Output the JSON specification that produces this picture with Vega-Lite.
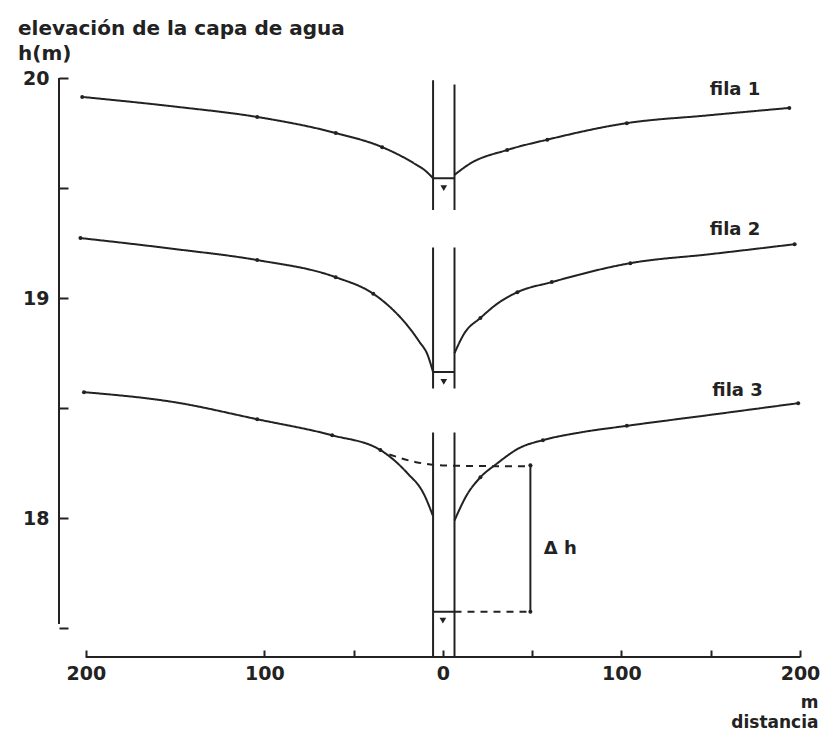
{
  "$schema": "https://vega.github.io/schema/vega-lite/v6.json",
  "width": 741,
  "height": 579,
  "autosize": {"type": "none"},
  "padding": {"left": 59, "top": 78, "right": 29, "bottom": 79},
  "background": "white",
  "config": {"view": {"stroke": null}, "font": "DejaVu Sans"},
  "title": {
    "text": ["elevación de la capa de agua", "h(m)"],
    "anchor": "start",
    "frame": "group",
    "dx": -41,
    "offset": 5,
    "fontSize": 20,
    "fontWeight": "bold",
    "color": "#222",
    "lineHeight": 25,
    "font": "DejaVu Sans"
  },
  "datasets": {
    "curvas": [
      {"serie": "f1i", "estilo": "solido", "d": -202, "h": 19.914},
      {"serie": "f1i", "estilo": "solido", "d": -150, "h": 19.87},
      {"serie": "f1i", "estilo": "solido", "d": -104, "h": 19.823},
      {"serie": "f1i", "estilo": "solido", "d": -60, "h": 19.75},
      {"serie": "f1i", "estilo": "solido", "d": -34, "h": 19.686},
      {"serie": "f1i", "estilo": "solido", "d": -16.5, "h": 19.614},
      {"serie": "f1i", "estilo": "solido", "d": -10, "h": 19.58},
      {"serie": "f1i", "estilo": "solido", "d": -5.5, "h": 19.545},
      {"serie": "f1d", "estilo": "solido", "d": 6.5, "h": 19.56},
      {"serie": "f1d", "estilo": "solido", "d": 15, "h": 19.61},
      {"serie": "f1d", "estilo": "solido", "d": 36, "h": 19.673},
      {"serie": "f1d", "estilo": "solido", "d": 58.5, "h": 19.72},
      {"serie": "f1d", "estilo": "solido", "d": 103, "h": 19.795},
      {"serie": "f1d", "estilo": "solido", "d": 148, "h": 19.83},
      {"serie": "f1d", "estilo": "solido", "d": 194, "h": 19.864},
      {"serie": "f2i", "estilo": "solido", "d": -203, "h": 19.273},
      {"serie": "f2i", "estilo": "solido", "d": -150, "h": 19.223},
      {"serie": "f2i", "estilo": "solido", "d": -104, "h": 19.173},
      {"serie": "f2i", "estilo": "solido", "d": -60, "h": 19.095},
      {"serie": "f2i", "estilo": "solido", "d": -39, "h": 19.02},
      {"serie": "f2i", "estilo": "solido", "d": -29, "h": 18.955},
      {"serie": "f2i", "estilo": "solido", "d": -19.3, "h": 18.87},
      {"serie": "f2i", "estilo": "solido", "d": -13, "h": 18.8},
      {"serie": "f2i", "estilo": "solido", "d": -8.7, "h": 18.745},
      {"serie": "f2i", "estilo": "solido", "d": -5.5, "h": 18.664},
      {"serie": "f2d", "estilo": "solido", "d": 6.5, "h": 18.75},
      {"serie": "f2d", "estilo": "solido", "d": 12, "h": 18.84},
      {"serie": "f2d", "estilo": "solido", "d": 21, "h": 18.91},
      {"serie": "f2d", "estilo": "solido", "d": 30.5, "h": 18.975},
      {"serie": "f2d", "estilo": "solido", "d": 41.7, "h": 19.027},
      {"serie": "f2d", "estilo": "solido", "d": 61, "h": 19.073},
      {"serie": "f2d", "estilo": "solido", "d": 105, "h": 19.159},
      {"serie": "f2d", "estilo": "solido", "d": 150, "h": 19.2},
      {"serie": "f2d", "estilo": "solido", "d": 197, "h": 19.245},
      {"serie": "f3i", "estilo": "solido", "d": -201, "h": 18.573},
      {"serie": "f3i", "estilo": "solido", "d": -150, "h": 18.527},
      {"serie": "f3i", "estilo": "solido", "d": -104, "h": 18.45},
      {"serie": "f3i", "estilo": "solido", "d": -62, "h": 18.377},
      {"serie": "f3i", "estilo": "solido", "d": -35, "h": 18.31},
      {"serie": "f3i", "estilo": "solido", "d": -19.9, "h": 18.205},
      {"serie": "f3i", "estilo": "solido", "d": -10.9, "h": 18.114},
      {"serie": "f3i", "estilo": "solido", "d": -5.5, "h": 18.01},
      {"serie": "f3d", "estilo": "solido", "d": 6.5, "h": 17.99},
      {"serie": "f3d", "estilo": "solido", "d": 13.7, "h": 18.11},
      {"serie": "f3d", "estilo": "solido", "d": 21, "h": 18.186},
      {"serie": "f3d", "estilo": "solido", "d": 30.5, "h": 18.25},
      {"serie": "f3d", "estilo": "solido", "d": 43, "h": 18.32},
      {"serie": "f3d", "estilo": "solido", "d": 56, "h": 18.355},
      {"serie": "f3d", "estilo": "solido", "d": 77, "h": 18.39},
      {"serie": "f3d", "estilo": "solido", "d": 103, "h": 18.42},
      {"serie": "f3d", "estilo": "solido", "d": 150, "h": 18.47},
      {"serie": "f3d", "estilo": "solido", "d": 199, "h": 18.523},
      {"serie": "f3n", "estilo": "trazos", "d": -30, "h": 18.29},
      {"serie": "f3n", "estilo": "trazos", "d": -15, "h": 18.255},
      {"serie": "f3n", "estilo": "trazos", "d": 0, "h": 18.24},
      {"serie": "f3n", "estilo": "trazos", "d": 25, "h": 18.237},
      {"serie": "f3n", "estilo": "trazos", "d": 50, "h": 18.236}
    ],
    "puntos": [
      {"d": -202, "h": 19.914}, {"d": -104, "h": 19.823}, {"d": -60, "h": 19.75}, {"d": -34, "h": 19.686},
      {"d": 36, "h": 19.673}, {"d": 58.5, "h": 19.72}, {"d": 103, "h": 19.795}, {"d": 194, "h": 19.864},
      {"d": -203, "h": 19.273}, {"d": -104, "h": 19.173}, {"d": -60, "h": 19.095}, {"d": -39, "h": 19.02},
      {"d": 21, "h": 18.91}, {"d": 41.7, "h": 19.027}, {"d": 61, "h": 19.073}, {"d": 105, "h": 19.159}, {"d": 197, "h": 19.245},
      {"d": -201, "h": 18.573}, {"d": -104, "h": 18.45}, {"d": -62, "h": 18.377}, {"d": -35, "h": 18.31},
      {"d": 21, "h": 18.186}, {"d": 56, "h": 18.355}, {"d": 103, "h": 18.42}, {"d": 199, "h": 18.523},
      {"d": 49, "h": 17.575}, {"d": 49, "h": 18.241}
    ],
    "reglas": [
      {"estilo": "solido", "d": -215, "d2": -215, "h": 17.52, "h2": 20},
      {"estilo": "solido", "d": -200, "d2": 200, "h": 17.37, "h2": 17.37},
      {"estilo": "solido", "d": -5.5, "d2": -5.5, "h": 19.99, "h2": 19.4},
      {"estilo": "solido", "d": 6.5, "d2": 6.5, "h": 19.97, "h2": 19.4},
      {"estilo": "solido", "d": -5.5, "d2": -5.5, "h": 19.23, "h2": 18.59},
      {"estilo": "solido", "d": 6.5, "d2": 6.5, "h": 19.23, "h2": 18.59},
      {"estilo": "solido", "d": -5.5, "d2": -5.5, "h": 18.39, "h2": 17.37},
      {"estilo": "solido", "d": 6.5, "d2": 6.5, "h": 18.39, "h2": 17.37},
      {"estilo": "solido", "d": -5.5, "d2": 6.5, "h": 19.545, "h2": 19.545},
      {"estilo": "solido", "d": -5.5, "d2": 6.5, "h": 18.664, "h2": 18.664},
      {"estilo": "solido", "d": -5.5, "d2": 6.5, "h": 17.575, "h2": 17.575},
      {"estilo": "trazos", "d": 6.5, "d2": 49, "h": 17.575, "h2": 17.575},
      {"estilo": "solido", "d": 49, "d2": 49, "h": 17.575, "h2": 18.241}
    ],
    "niveles": [
      {"d": 0.5, "h": 19.5},
      {"d": 0.5, "h": 18.62},
      {"d": 0, "h": 17.535}
    ],
    "textos": [
      {"d": 163.6, "h": 19.945, "label": "fila 1"},
      {"d": 163.6, "h": 19.31, "label": "fila 2"},
      {"d": 165, "h": 18.58, "label": "fila 3"},
      {"d": 65.7, "h": 17.86, "label": "Δ h"}
    ]
  },
  "encoding": {
    "x": {
      "field": "d",
      "type": "quantitative",
      "scale": {"domain": [-215, 200], "nice": false, "zero": false},
      "axis": {
        "title": ["m", "distancia"],
        "values": [-200, -100, -50, 0, 50, 100, 150, 200],
        "labelExpr": "abs(datum.value) % 100 == 0 ? format(abs(datum.value), 'd') : ''",
        "domain": false,
        "grid": false,
        "tickSize": -7,
        "tickWidth": 2,
        "tickColor": "#222",
        "labelPadding": 14,
        "labelFontSize": 19,
        "labelFontWeight": "bold",
        "labelColor": "#222",
        "labelFont": "DejaVu Sans",
        "labelOverlap": false,
        "labelFlush": false,
        "labelBound": false,
        "titleFont": "DejaVu Sans",
        "titleFontSize": 17,
        "titleFontWeight": "bold",
        "titleColor": "#222",
        "titleAnchor": "end",
        "titleAlign": "right",
        "titleBaseline": "alphabetic",
        "titleLineHeight": 20,
        "titleX": 759,
        "titleY": 50
      }
    },
    "y": {
      "field": "h",
      "type": "quantitative",
      "scale": {"domain": [17.37, 20], "nice": false, "zero": false},
      "axis": {
        "title": null,
        "values": [17.5, 18, 18.5, 19, 19.5, 20],
        "labelExpr": "datum.value % 1 == 0 ? format(datum.value, 'd') : ''",
        "domain": false,
        "grid": false,
        "tickSize": -9,
        "tickWidth": 2,
        "tickColor": "#222",
        "labelPadding": 19,
        "labelFontSize": 19,
        "labelFontWeight": "bold",
        "labelColor": "#222",
        "labelFont": "DejaVu Sans",
        "labelOverlap": false,
        "labelFlush": false,
        "labelBound": false
      }
    }
  },
  "layer": [
    {
      "data": {"name": "reglas"},
      "mark": {"type": "rule", "color": "#222", "strokeWidth": 2},
      "encoding": {
        "x2": {"field": "d2"},
        "y2": {"field": "h2"},
        "strokeDash": {"field": "estilo", "type": "nominal", "scale": {"domain": ["solido", "trazos"], "range": [[1, 0], [7, 6]]}, "legend": null}
      }
    },
    {
      "data": {"name": "curvas"},
      "mark": {"type": "line", "color": "#222", "strokeWidth": 2, "interpolate": "monotone"},
      "encoding": {
        "detail": {"field": "serie", "type": "nominal"},
        "strokeDash": {"field": "estilo", "type": "nominal", "scale": {"domain": ["solido", "trazos"], "range": [[1, 0], [7, 6]]}, "legend": null}
      }
    },
    {
      "data": {"name": "puntos"},
      "mark": {"type": "point", "filled": true, "color": "#222", "size": 16, "opacity": 1}
    },
    {
      "data": {"name": "niveles"},
      "mark": {"type": "point", "shape": "triangle-down", "filled": true, "color": "#222", "size": 45, "opacity": 1}
    },
    {
      "data": {"name": "textos"},
      "mark": {"type": "text", "font": "DejaVu Sans", "fontSize": 18, "fontWeight": "bold", "color": "#222", "align": "center", "baseline": "middle"},
      "encoding": {"text": {"field": "label", "type": "nominal"}}
    }
  ]
}
